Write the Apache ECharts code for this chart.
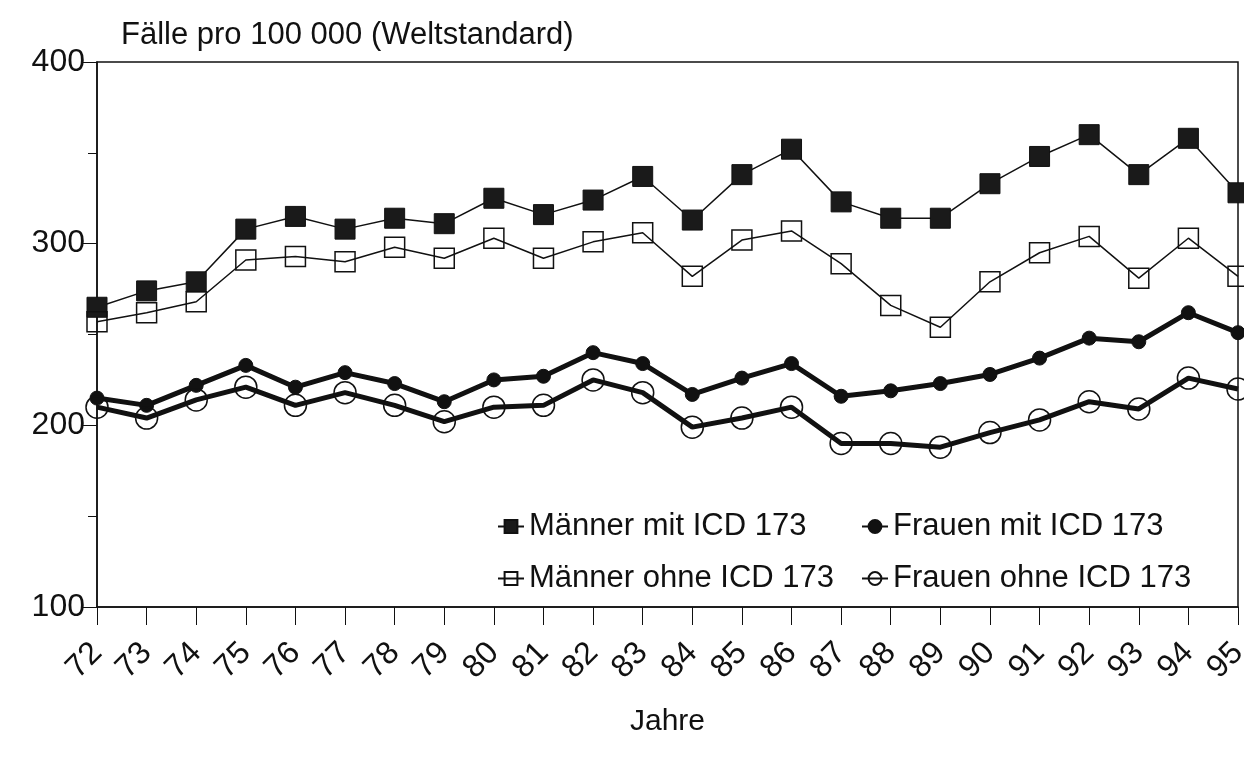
<!DOCTYPE html>
<html>
<head>
<meta charset="utf-8">
<title>Fälle pro 100 000</title>
<script src="https://cdn.jsdelivr.net/npm/echarts@6/dist/echarts.min.js"></script>
<style>
    html, body { margin: 0; padding: 0; background: #fff; }
    #chart { width: 1244px; height: 763px; }
</style>
</head>
<body>
<div id="chart"></div>
<script>
// Jahre (x-Achse)
const years = ['72', '73', '74', '75', '76', '77', '78', '79', '80', '81', '82', '83',
    '84', '85', '86', '87', '88', '89', '90', '91', '92', '93', '94', '95']

// Werte
const maennerMit = [265, 274, 279, 308, 315, 308, 314, 311, 325, 316, 324, 337,
    313, 338, 352, 323, 314, 314, 333, 348, 360, 338, 358, 328]
const maennerOhne = [257, 262, 268, 291, 293, 290, 298, 292, 303, 292, 301, 306,
    282, 302, 307, 289, 266, 254, 279, 295, 304, 281, 303, 282]
const frauenMit = [215, 211, 222, 233, 221, 229, 223, 213, 225, 227, 240, 234,
    217, 226, 234, 216, 219, 223, 228, 237, 248, 246, 262, 251]
const frauenOhne = [210, 204, 214, 221, 211, 218, 211, 202, 210, 211, 225, 218,
    199, 204, 210, 190, 190, 188, 196, 203, 213, 209, 226, 220]

const seriesNames = ['Männer mit ICD 173', 'Männer ohne ICD 173', 'Frauen mit ICD 173', 'Frauen ohne ICD 173']

const font = 'Liberation Sans, Arial, sans-serif'
const ink = '#111'

const chart = echarts.init(document.getElementById('chart'))

// Legende in zwei Spalten
const legendText = { fontFamily: font, fontSize: 31, color: ink }

const option = {
    animation: false,
    backgroundColor: '#fff',
    title: {
        text: 'Fälle pro 100 000 (Weltstandard)',
        left: 116,
        top: 15,
        textStyle: { fontFamily: font, fontSize: 31, fontWeight: 'normal', color: ink }
    },
    legend: [{
        data: [seriesNames[0], seriesNames[1]],
        orient: 'vertical',
        left: 492,
        top: 506,
        itemWidth: 26,
        itemHeight: 16,
        itemGap: 21,
        textStyle: legendText
    }, {
        data: [seriesNames[2], seriesNames[3]],
        orient: 'vertical',
        left: 856,
        top: 506,
        itemWidth: 26,
        itemHeight: 16,
        itemGap: 21,
        textStyle: legendText
    }],
    grid: {
        left: 97,
        right: 6,
        top: 62,
        bottom: 156,
        show: true,
        borderColor: ink,
        borderWidth: 1.5,
        containLabel: false,
        outerBoundsMode: 'none'
    },
    xAxis: {
        type: 'category',
        data: years,
        boundaryGap: false,
        name: 'Jahre',
        nameLocation: 'middle',
        nameGap: 100,
        nameTextStyle: { fontFamily: font, fontSize: 30, color: ink },
        axisLine: { lineStyle: { color: ink, width: 1.5 } },
        axisTick: { length: 18, lineStyle: { color: ink } },
        axisLabel: {
            rotate: 45,
            margin: 41,
            fontFamily: font,
            fontSize: 32,
            color: ink,
            interval: 0
        },
        splitLine: { show: false }
    },
    yAxis: {
        type: 'value',
        min: 100,
        max: 400,
        interval: 100,
        axisLine: { show: true, lineStyle: { color: ink, width: 1.5 } },
        axisTick: { show: true, length: 15, lineStyle: { color: ink } },
        minorTick: { show: true, splitNumber: 2, length: 9, lineStyle: { color: ink } },
        axisLabel: { fontFamily: font, fontSize: 32, color: ink, margin: 12 },
        splitLine: { show: false }
    },
    series: [{
        name: seriesNames[0],
        type: 'line',
        data: maennerMit,
        symbol: 'rect',
        symbolSize: 20,
        lineStyle: { color: ink, width: 1.5 },
        itemStyle: { color: '#1a1a1a', borderColor: ink, borderWidth: 1 }
    }, {
        name: seriesNames[1],
        type: 'line',
        data: maennerOhne,
        symbol: 'rect',
        symbolSize: 20,
        lineStyle: { color: ink, width: 1.5 },
        itemStyle: { color: 'rgba(255,255,255,0)', borderColor: ink, borderWidth: 1.5 }
    }, {
        name: seriesNames[2],
        type: 'line',
        data: frauenMit,
        symbol: 'circle',
        symbolSize: 14,
        lineStyle: { color: ink, width: 5 },
        itemStyle: { color: ink, borderColor: ink, borderWidth: 1 }
    }, {
        name: seriesNames[3],
        type: 'line',
        data: frauenOhne,
        symbol: 'circle',
        symbolSize: 22,
        lineStyle: { color: ink, width: 5 },
        itemStyle: { color: 'rgba(255,255,255,0)', borderColor: ink, borderWidth: 1.5 }
    }]
}

chart.setOption(option)
</script>
</body>
</html>
